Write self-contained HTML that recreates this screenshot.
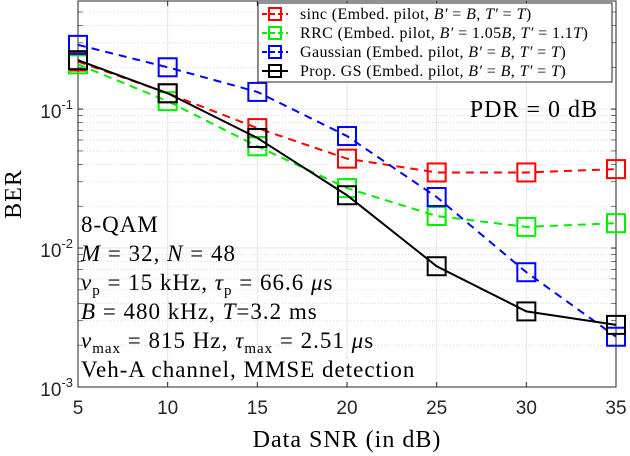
<!DOCTYPE html>
<html><head><meta charset="utf-8"><style>
body{margin:0;background:#fff;}
svg{display:block;}
.tk{font-family:"Liberation Sans",sans-serif;font-size:19px;fill:#262626;}
.sr{font-family:"Liberation Serif",serif;fill:#000;}
</style></head><body>
<svg id="chart" width="630" height="456" viewBox="0 0 630 456" xmlns="http://www.w3.org/2000/svg"></svg>
<script>
const snr = [5, 10, 15, 20, 25, 30, 35];
const sincBER = [0.22, 0.13, 0.073, 0.044, 0.035, 0.035, 0.037];
const rrcBER = [0.21, 0.114, 0.054, 0.027, 0.017, 0.0142, 0.0151];
const gaussBER = [0.29, 0.2, 0.133, 0.064, 0.0233, 0.0067, 0.0023];
const gsBER = [0.225, 0.13, 0.062, 0.024, 0.0074, 0.0035, 0.0028];
const xTicks = [5, 10, 15, 20, 25, 30, 35];
const yDecades = [-3, -2, -1];

const L=78,R=616,T=1,B=387;
const yTop=Math.log10(0.6), yBot=-3;
const xs=v=>L+(v-5)/30*(R-L);
const ys=v=>B-(Math.log10(v)-yBot)/(yTop-yBot)*(B-T);
const svg=document.getElementById('chart');
const NS='http://www.w3.org/2000/svg';
function el(tag,attrs,parent){const e=document.createElementNS(NS,tag);for(const k in attrs)e.setAttribute(k,attrs[k]);(parent||svg).appendChild(e);return e;}

const grid=el('g',{});


xTicks.forEach(t=>{el('line',{x1:xs(t),x2:xs(t),y1:T,y2:B,stroke:'#e6e6e6','stroke-width':1},grid);});
for(let d=-3;d<0;d++){for(let m=1;m<10;m++){const v=m*Math.pow(10,d);if(v>0.6)break;const y=ys(v);
 if(m===1)el('line',{x1:L,x2:R,y1:y,y2:y,stroke:'#e6e6e6','stroke-width':1},grid);
 else el('line',{x1:L,x2:R,y1:y,y2:y,stroke:'#d0d0d0','stroke-width':0.8,'stroke-dasharray':'1,2'},grid);
 el('line',{x1:L,x2:L+5,y1:y,y2:y,stroke:'#262626','stroke-width':m===1?1:0.6},grid);
 el('line',{x1:R-5,x2:R,y1:y,y2:y,stroke:'#262626','stroke-width':m===1?1:0.6},grid);}}
const box=el('rect',{x:L,y:T,width:R-L,height:B-T,fill:'none',stroke:'#262626','stroke-width':1});


xTicks.forEach(t=>{
 el('line',{x1:xs(t),x2:xs(t),y1:B,y2:B-5,stroke:'#262626'});
 el('line',{x1:xs(t),x2:xs(t),y1:T,y2:T+5,stroke:'#262626'});
 const tx=el('text',{x:xs(t),y:B+27,'text-anchor':'middle',class:'tk'});tx.textContent=t;
 
 
});
yDecades.forEach(d=>{
 const tx=el('text',{x:L-5,y:ys(Math.pow(10,d))+9,'text-anchor':'end',class:'tk'});
 tx.innerHTML='10<tspan dy="-9" font-size="13">'+d+'</tspan>';
 
 
});
const xt=el('text',{x:(L+R)/2,y:447,'text-anchor':'middle',class:'sr','font-size':24,'letter-spacing':1,fill:'#262626'});xt.textContent='Data SNR (in dB)';


const yt=el('text',{x:0,y:0,'text-anchor':'middle',class:'sr','font-size':24,'letter-spacing':1,transform:'translate(21,'+((T+B)/2)+') rotate(-90)',fill:'#262626'});yt.textContent='BER';



const series=[
 {name:'sinc',data:sincBER,c:'#ff0000',dash:'8,6'},
 {name:'rrc',data:rrcBER,c:'#00ee00',dash:'8,6'},
 {name:'gaussian',data:gaussBER,c:'#0000ff',dash:'8,6'},
 {name:'prop-gs',data:gsBER,c:'#000000',dash:''}];
series.forEach(s=>{
 const g=el('g',{});
 
 
 const pts=snr.map((x,i)=>xs(x)+','+ys(s.data[i])).join(' ');
 el('polyline',{points:pts,fill:'none',stroke:s.c,'stroke-width':2,'stroke-dasharray':s.dash},g);
 snr.forEach((x,i)=>{
  const r=el('rect',{x:xs(x)-9,y:ys(s.data[i])-9,width:18,height:18,fill:'none',stroke:s.c,'stroke-width':2},g);
  
  
 });
});

const ann=['8-QAM','<tspan font-style="italic">M</tspan> = 32, <tspan font-style="italic">N</tspan> = 48',
'<tspan font-style="italic">ν</tspan><tspan font-size="15" dy="5">p</tspan><tspan dy="-5"> = 15 kHz, </tspan><tspan font-style="italic">τ</tspan><tspan font-size="15" dy="5">p</tspan><tspan dy="-5"> = 66.6 </tspan><tspan font-style="italic">μ</tspan>s',
'<tspan font-style="italic">B</tspan> = 480 kHz, <tspan font-style="italic">T</tspan>=3.2 ms',
'<tspan font-style="italic">ν</tspan><tspan font-size="15" dy="5">max</tspan><tspan dy="-5"> = 815 Hz, </tspan><tspan font-style="italic">τ</tspan><tspan font-size="15" dy="5">max</tspan><tspan dy="-5"> = 2.51 </tspan><tspan font-style="italic">μ</tspan>s',
'Veh-A channel, MMSE detection'];
ann.forEach((a,i)=>{const t=el('text',{x:81,y:232+i*29,class:'sr','font-size':23,'letter-spacing':1});t.innerHTML=a;
 
 });
const pdr=el('text',{x:598,y:117,'text-anchor':'end',class:'sr','font-size':24,'letter-spacing':1});pdr.textContent='PDR = 0 dB';



const lg=el('g',{});


el('rect',{x:258,y:3,width:354,height:79,fill:'#fff',stroke:'#262626','stroke-width':1},lg);
const labs=['sinc (Embed. pilot, <tspan font-style="italic">B′</tspan> = <tspan font-style="italic">B</tspan>, <tspan font-style="italic">T′</tspan> = <tspan font-style="italic">T</tspan>)',
'RRC (Embed. pilot, <tspan font-style="italic">B′</tspan> = 1.05<tspan font-style="italic">B</tspan>, <tspan font-style="italic">T′</tspan> = 1.1<tspan font-style="italic">T</tspan>)',
'Gaussian (Embed. pilot, <tspan font-style="italic">B′</tspan> = <tspan font-style="italic">B</tspan>, <tspan font-style="italic">T′</tspan> = <tspan font-style="italic">T</tspan>)',
'Prop. GS (Embed. pilot, <tspan font-style="italic">B′</tspan> = <tspan font-style="italic">B</tspan>, <tspan font-style="italic">T′</tspan> = <tspan font-style="italic">T</tspan>)'];
series.forEach((s,i)=>{
 const y=14+i*19;
 const e=el('g',{},lg);
 
 
 el('line',{x1:262,x2:288,y1:y,y2:y,stroke:s.c,'stroke-width':2,'stroke-dasharray':s.dash?'5,3':''},e);
 el('rect',{x:269,y:y-6,width:12,height:12,fill:'none',stroke:s.c,'stroke-width':2},e);
 const t=el('text',{x:300,y:y+5,class:'sr','font-size':16,'letter-spacing':0.4},e);t.innerHTML=labs[i];
});
</script>
</body></html>
